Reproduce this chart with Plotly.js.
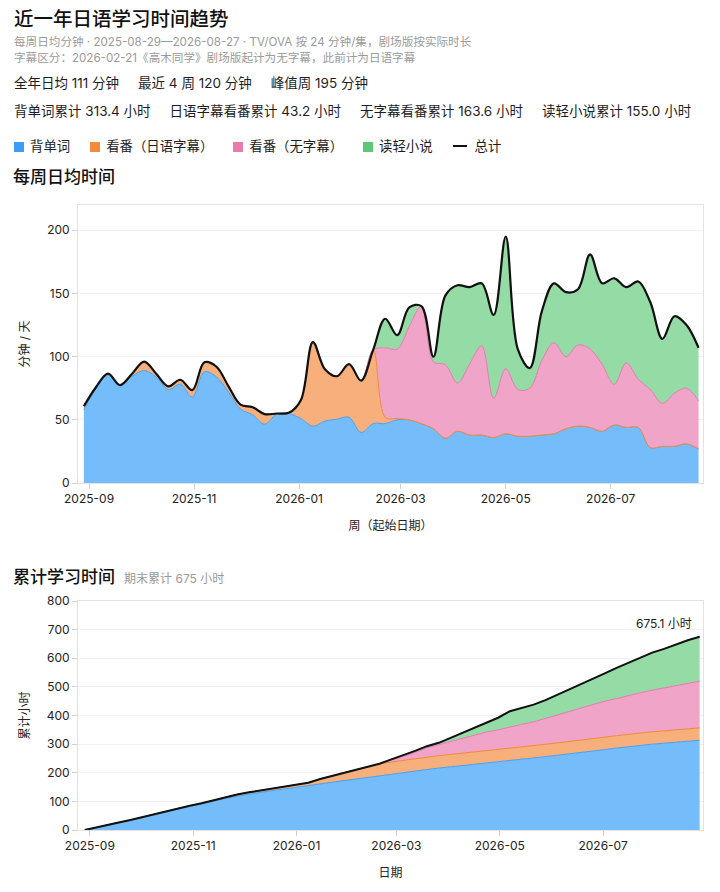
<!DOCTYPE html>
<html>
<head>
<meta charset="utf-8">
<script src="https://cdn.plot.ly/plotly-3.0.1.min.js"></script>
<style>
  html,body{margin:0;padding:0;background:#fff;}
  body{width:720px;height:892px;position:relative;overflow:hidden;
       font-family:Inter,"Noto Sans CJK SC",sans-serif;color:#1d1d1f;}
  .abs{position:absolute;left:14px;white-space:nowrap;}
  .h1{top:7px;font-size:19.5px;line-height:24px;font-weight:500;color:#111;}
  .sub{font-size:11.6px;line-height:16px;color:#9a9a9a;}
  .stats{font-size:13.5px;line-height:18px;color:#1d1d1f;}
  .stats span{margin-right:19px;}
  .legend{top:136px;font-size:13.4px;line-height:18px;color:#1d1d1f;}
  .legend .it{display:inline-block;margin-right:20px;vertical-align:middle;}
  .legend .sw{display:inline-block;width:10px;height:10px;margin-right:6px;vertical-align:-1px;}
  .legend .ln{display:inline-block;width:14px;height:2.5px;background:#111;margin-right:8px;vertical-align:4px;}
  #c1{position:absolute;left:0;top:160px;width:720px;height:390px;}
  #c2{position:absolute;left:0;top:555px;width:720px;height:337px;}
</style>
</head>
<body>
<div class="abs h1">近一年日语学习时间趋势</div>
<div class="abs sub" style="top:34px">每周日均分钟 · 2025-08-29—2026-08-27 · TV/OVA 按 24 分钟/集，剧场版按实际时长</div>
<div class="abs sub" style="top:50px">字幕区分：2026-02-21《高木同学》剧场版起计为无字幕，此前计为日语字幕</div>
<div class="abs stats" style="top:74px"><span>全年日均 111 分钟</span><span>最近 4 周 120 分钟</span><span>峰值周 195 分钟</span></div>
<div class="abs stats" style="top:102px"><span>背单词累计 313.4 小时</span><span>日语字幕看番累计 43.2 小时</span><span>无字幕看番累计 163.6 小时</span><span>读轻小说累计 155.0 小时</span></div>
<div class="abs legend" id="legend"></div>
<div id="c1"></div>
<div id="c2"></div>
<script>
// ---------------- data ----------------
const weekStart = ['2025-08-29','2025-09-05','2025-09-12','2025-09-19','2025-09-26','2025-10-03','2025-10-10','2025-10-17','2025-10-24','2025-10-31',
  '2025-11-07','2025-11-14','2025-11-21','2025-11-28','2025-12-05','2025-12-12','2025-12-19','2025-12-26','2026-01-02','2026-01-09',
  '2026-01-16','2026-01-23','2026-01-30','2026-02-06','2026-02-13','2026-02-20','2026-02-27','2026-03-06','2026-03-13','2026-03-20',
  '2026-03-27','2026-04-03','2026-04-10','2026-04-17','2026-04-24','2026-05-01','2026-05-08','2026-05-15','2026-05-22','2026-05-29',
  '2026-06-05','2026-06-12','2026-06-19','2026-06-26','2026-07-03','2026-07-10','2026-07-17','2026-07-24','2026-07-31','2026-08-07',
  '2026-08-14','2026-08-21'];

// minutes per day (weekly average)
const vocab = [57.8,74.8,85.5,77,84.5,89,84,74,78.2,68,
  88,84,72,58.5,54,46.5,54.5,55,51,45,
  49,50.5,52,40,47,47,50,50,47,43,
  35.5,41,38,38,36,39,37,37,38,39,
  43,45,44,41,46,44,44,28,29,29,
  31,27];
const animeJpSub = [3,1,1,0.5,2,7,2.5,2.5,3.5,5.5,
  7.5,8,4.5,3.5,6,8,0.5,0.5,14.5,66.5,
  41,34,42,41,58.3,5,1,0,0,0,
  0,0,0,0,0,0,0,0,0,0,
  0,0,0,0,0,0,0,0,0,0,
  0,0];
const animeNoSub = [0,0,0,0,0,0,0,0,0,0,
  0,0,0,0,0,0,0,0,0,0,
  0,0,0,0,0,55,55,74,93,53,
  58,38,56,70.5,31,51.5,37,38,59,72,
  57,64.3,62,53,32,51,38,46,34,42,
  44,38];
const lightNovel = [0,0,0,0,0,0,0,0,0,0,
  0,0,0,0,0,0,0,0,0,0,
  0,0,0,0,0,23,11,15,0,4,
  55,77.5,61,49.5,66,104.5,32,16,39,47,
  51,44,75,64,84,60,77.5,69,51,61,
  50,42];

const seriesNames = ['背单词','看番（日语字幕）','看番（无字幕）','读轻小说'];
const totalName = '总计';
const seriesLine = ['#4a9ff2','#f0893a','#e67aae','#5cc476'];
const seriesFill = ['#74bcfa','#f7b07c','#f0a4c8','#94dba6'];
const legendSwatch = ['#3d9cf4','#f28c3b','#e97ab0','#5ec878'];
const endLabel = '675.1 小时';

// ---------------- helpers ----------------
const FONT = 'Inter, "Noto Sans CJK SC", sans-serif';
const seriesData = [vocab, animeJpSub, animeNoSub, lightNovel];
const total = weekStart.map((_, i) => seriesData.reduce((s, arr) => s + arr[i], 0));

// cumulative hours (0 at start, then at the end of each week)
function addDays(s, d) {
  const t = new Date(s + 'T00:00:00Z').getTime() + d * 86400000;
  return new Date(t).toISOString().slice(0, 10);
}
const cumX = [weekStart[0]].concat(weekStart.map(s => addDays(s, 6)));
function cumulate(arr) {
  const out = [0]; let c = 0;
  arr.forEach(v => { c += v * 7 / 60; out.push(c); });
  return out;
}
const cumSeries = seriesData.map(cumulate);
const cumTotal = cumulate(total);

// legend (html)
const lg = document.getElementById('legend');
seriesNames.forEach((n, i) => {
  const it = document.createElement('span'); it.className = 'it';
  it.innerHTML = '<span class="sw" style="background:' + legendSwatch[i] + '"></span>' + n;
  lg.appendChild(it);
});
const itT = document.createElement('span'); itT.className = 'it';
itT.innerHTML = '<span class="ln"></span>' + totalName;
lg.appendChild(itT);

// ---------------- chart 1 ----------------
const t1 = seriesData.map((arr, i) => ({
  type: 'scatter', mode: 'lines', name: seriesNames[i], x: weekStart, y: arr,
  stackgroup: 'w', line: {shape: 'spline', width: 1, color: seriesLine[i]},
  fillcolor: seriesFill[i], hoverinfo: 'skip'
}));
t1.push({type: 'scatter', mode: 'lines', name: totalName, x: weekStart, y: total,
  line: {shape: 'spline', width: 2.2, color: '#111'}, hoverinfo: 'skip'});

const axisCommon = {
  ticks: 'outside', ticklen: 5, tickcolor: '#d0d0d0', showline: true, linecolor: '#e2e2e2',
  mirror: true, zeroline: false, tickfont: {size: 12, color: '#222'}
};

const layout1 = {
  width: 720, height: 390, margin: {l: 78, r: 17, t: 45, b: 67},
  paper_bgcolor: '#fff', plot_bgcolor: '#fff', showlegend: false,
  font: {family: FONT, size: 12, color: '#222'},
  title: {text: '每周日均时间', font: {size: 17, color: '#111', weight: 500},
    x: 13 / 720, xanchor: 'left', xref: 'container', y: 1 - 17 / 390, yref: 'container', yanchor: 'middle'},
  xaxis: Object.assign({}, axisCommon, {type: 'date', range: ['2025-08-25 14:00', '2026-08-23 14:00'],
    tickformat: '%Y-%m', dtick: 'M2', tick0: '2025-09-01', showgrid: false,
    title: {text: '周（起始日期）', font: {size: 12, color: '#222'}, standoff: 16}}),
  yaxis: Object.assign({}, axisCommon, {range: [0, 220], dtick: 50, gridcolor: '#f1f1f1',
    title: {text: '分钟 / 天', font: {size: 12, color: '#222'}, standoff: 14}})
};
Plotly.newPlot('c1', t1, layout1, {staticPlot: true, displayModeBar: false});

// ---------------- chart 2 ----------------
const t2 = cumSeries.map((arr, i) => ({
  type: 'scatter', mode: 'lines', name: seriesNames[i], x: cumX, y: arr,
  stackgroup: 'c', line: {shape: 'linear', width: 1, color: seriesLine[i]},
  fillcolor: seriesFill[i], hoverinfo: 'skip'
}));
t2.push({type: 'scatter', mode: 'lines', name: totalName, x: cumX, y: cumTotal,
  line: {width: 2, color: '#111'}, hoverinfo: 'skip'});

const layout2 = {
  width: 720, height: 337, margin: {l: 78, r: 17, t: 46, b: 62},
  paper_bgcolor: '#fff', plot_bgcolor: '#fff', showlegend: false,
  font: {family: FONT, size: 12, color: '#222'},
  title: {text: '累计学习时间\u00a0\u00a0<span style="font-size:12px;color:#999;font-weight:400">期末累计 675 小时</span>',
    font: {size: 17, color: '#111', weight: 500},
    x: 13 / 720, xanchor: 'left', xref: 'container', y: 1 - 22 / 337, yref: 'container', yanchor: 'middle'},
  xaxis: Object.assign({}, axisCommon, {type: 'date', range: ['2025-08-25', '2026-08-29'],
    tickformat: '%Y-%m', dtick: 'M2', tick0: '2025-09-01', showgrid: false,
    title: {text: '日期', font: {size: 12, color: '#222'}, standoff: 16}}),
  yaxis: Object.assign({}, axisCommon, {range: [0, 800], dtick: 100, gridcolor: '#f1f1f1',
    title: {text: '累计小时', font: {size: 12, color: '#222'}, standoff: 14}}),
  annotations: [{x: cumX[cumX.length - 1], y: cumTotal[cumTotal.length - 1], text: endLabel,
    showarrow: false, xanchor: 'right', yanchor: 'bottom', xshift: -6, yshift: 4,
    font: {size: 12, color: '#222'}}]
};
Plotly.newPlot('c2', t2, layout2, {staticPlot: true, displayModeBar: false});
</script>
</body>
</html>
